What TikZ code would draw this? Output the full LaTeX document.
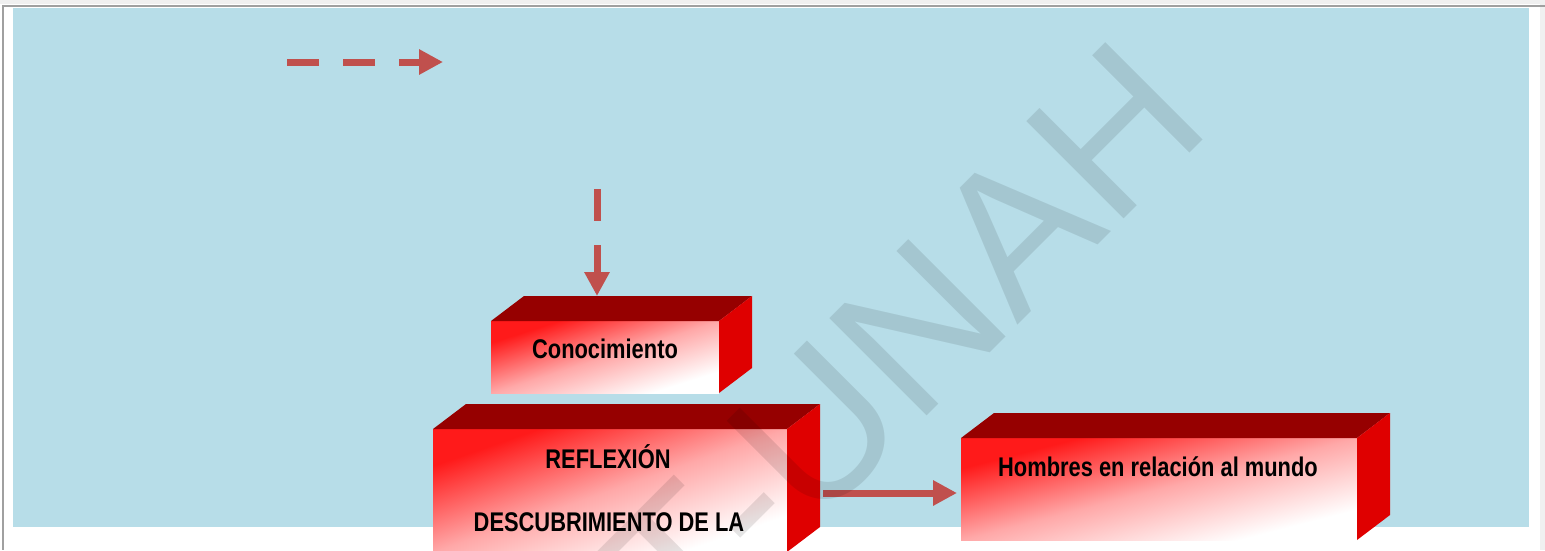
\documentclass[tikz,border=0pt]{standalone}
\usepackage{fontspec}
\setmainfont{Liberation Sans}
\newfontfamily\boxfont[FakeStretch=0.81]{Liberation Sans}
\newfontfamily\wmfont{Liberation Sans}
\usetikzlibrary{arrows.meta,calc}
\definecolor{bgblue}{HTML}{B7DDE8}
\definecolor{arrred}{HTML}{C0504D}
\definecolor{topred}{HTML}{960000}
\definecolor{sidered}{HTML}{DF0000}
\definecolor{frontA}{HTML}{FF1A1A}
\definecolor{frontB}{HTML}{FFA8A8}
\definecolor{frontC}{HTML}{FFFFFF}
\definecolor{frameline}{HTML}{A0A0A0}
\definecolor{outergray}{HTML}{F0F0F0}
\newcommand\drawcuboid[1]{%
  \fill[topred] (#1.north west) -- ++(33,-25) -- ([shift={(33,-25)}]#1.north east) -- (#1.north east) -- cycle;
  \fill[sidered] (#1.north east) -- ++(33,-25) -- ([shift={(33,-25)}]#1.south east) -- (#1.south east) -- cycle;}
% #1 name, #2 centre, #3 width, #4 height
\newcommand\frontbox[4]{%
  \begin{scope}[transform canvas={shift={#2}, xscale=#3/100, yscale=#4/100}]
    \shade[frontshade] (-50,-50) rectangle (50,50);
  \end{scope}
  \node[front, minimum width=#3pt, minimum height=#4pt] (#1) at #2 {};
  \drawcuboid{#1}}
\begin{document}
\begin{tikzpicture}[x=1pt,y=-1pt,
  frontshade/.style={top color=frontA, bottom color=frontC, middle color=frontB, shading angle=45},
  front/.style={inner sep=0pt, outer sep=0pt},
  lbl/.style={font=\boxfont\bfseries\fontsize{27}{30}\selectfont, text=black, inner sep=0pt},
  arr/.style={draw=arrred, line width=7pt, -{Triangle[length=24pt,width=24pt]}},
  dasharr/.style={arr, dash pattern=on 32pt off 24pt},
  wmark/.style={font=\wmfont\fontsize{200}{200}\selectfont, text=black, text opacity=0.1, inner sep=0pt, outer sep=0pt}]
\useasboundingbox (0,0) rectangle (1545,550);
\clip (0,0) rectangle (1545,550);
% frame and background
\fill[white] (0,0) rectangle (1545,550);
\fill[outergray] (0,0) rectangle (1545,4);
\fill[outergray] (1540,0) rectangle (1545,550);
\fill[frameline] (2,5) rectangle (1545,7);
\fill[frameline] (2,5) rectangle (4,550);
\fill[bgblue] (13,8) rectangle (1529,527);
% boxes
\frontbox{f1}{(605,357)}{228}{72}
\frontbox{f2}{(610,490.5)}{354}{123}
\frontbox{f3}{(1159,489)}{396}{102}
% labels
\node[lbl, anchor=base] (t1) at (605,358) {Conocimiento};
\node[lbl, anchor=base] (t2a) at (608,468) {REFLEXIÓN};
\node[lbl, anchor=base] (t2b) at (609,531) {DESCUBRIMIENTO DE LA};
\node[lbl, anchor=base] (t3) at (1158,476) {Hombres en relación al mundo};
% connectors
\coordinate (d1s) at (287,62);
\coordinate (d1e) at (443,62);
\draw[dasharr] (d1s) -- (d1e);
\coordinate (v1s) at (597,189);
\coordinate (f1top) at ([shift={(33,-25)}]f1.north west);
\draw[dasharr] (v1s) -- (v1s |- f1top);
\coordinate (f2side) at ([shift={(33,-25)}]f2.north east);
\draw[arr] ($(f3.west -| f2side)+(3,4)$) -- ($(f3.west)+(-4,4)$);
% watermark
\node[wmark, rotate=45, anchor=base west] (wm) at (688,655) {T-UNAH};
\end{tikzpicture}
\end{document}
